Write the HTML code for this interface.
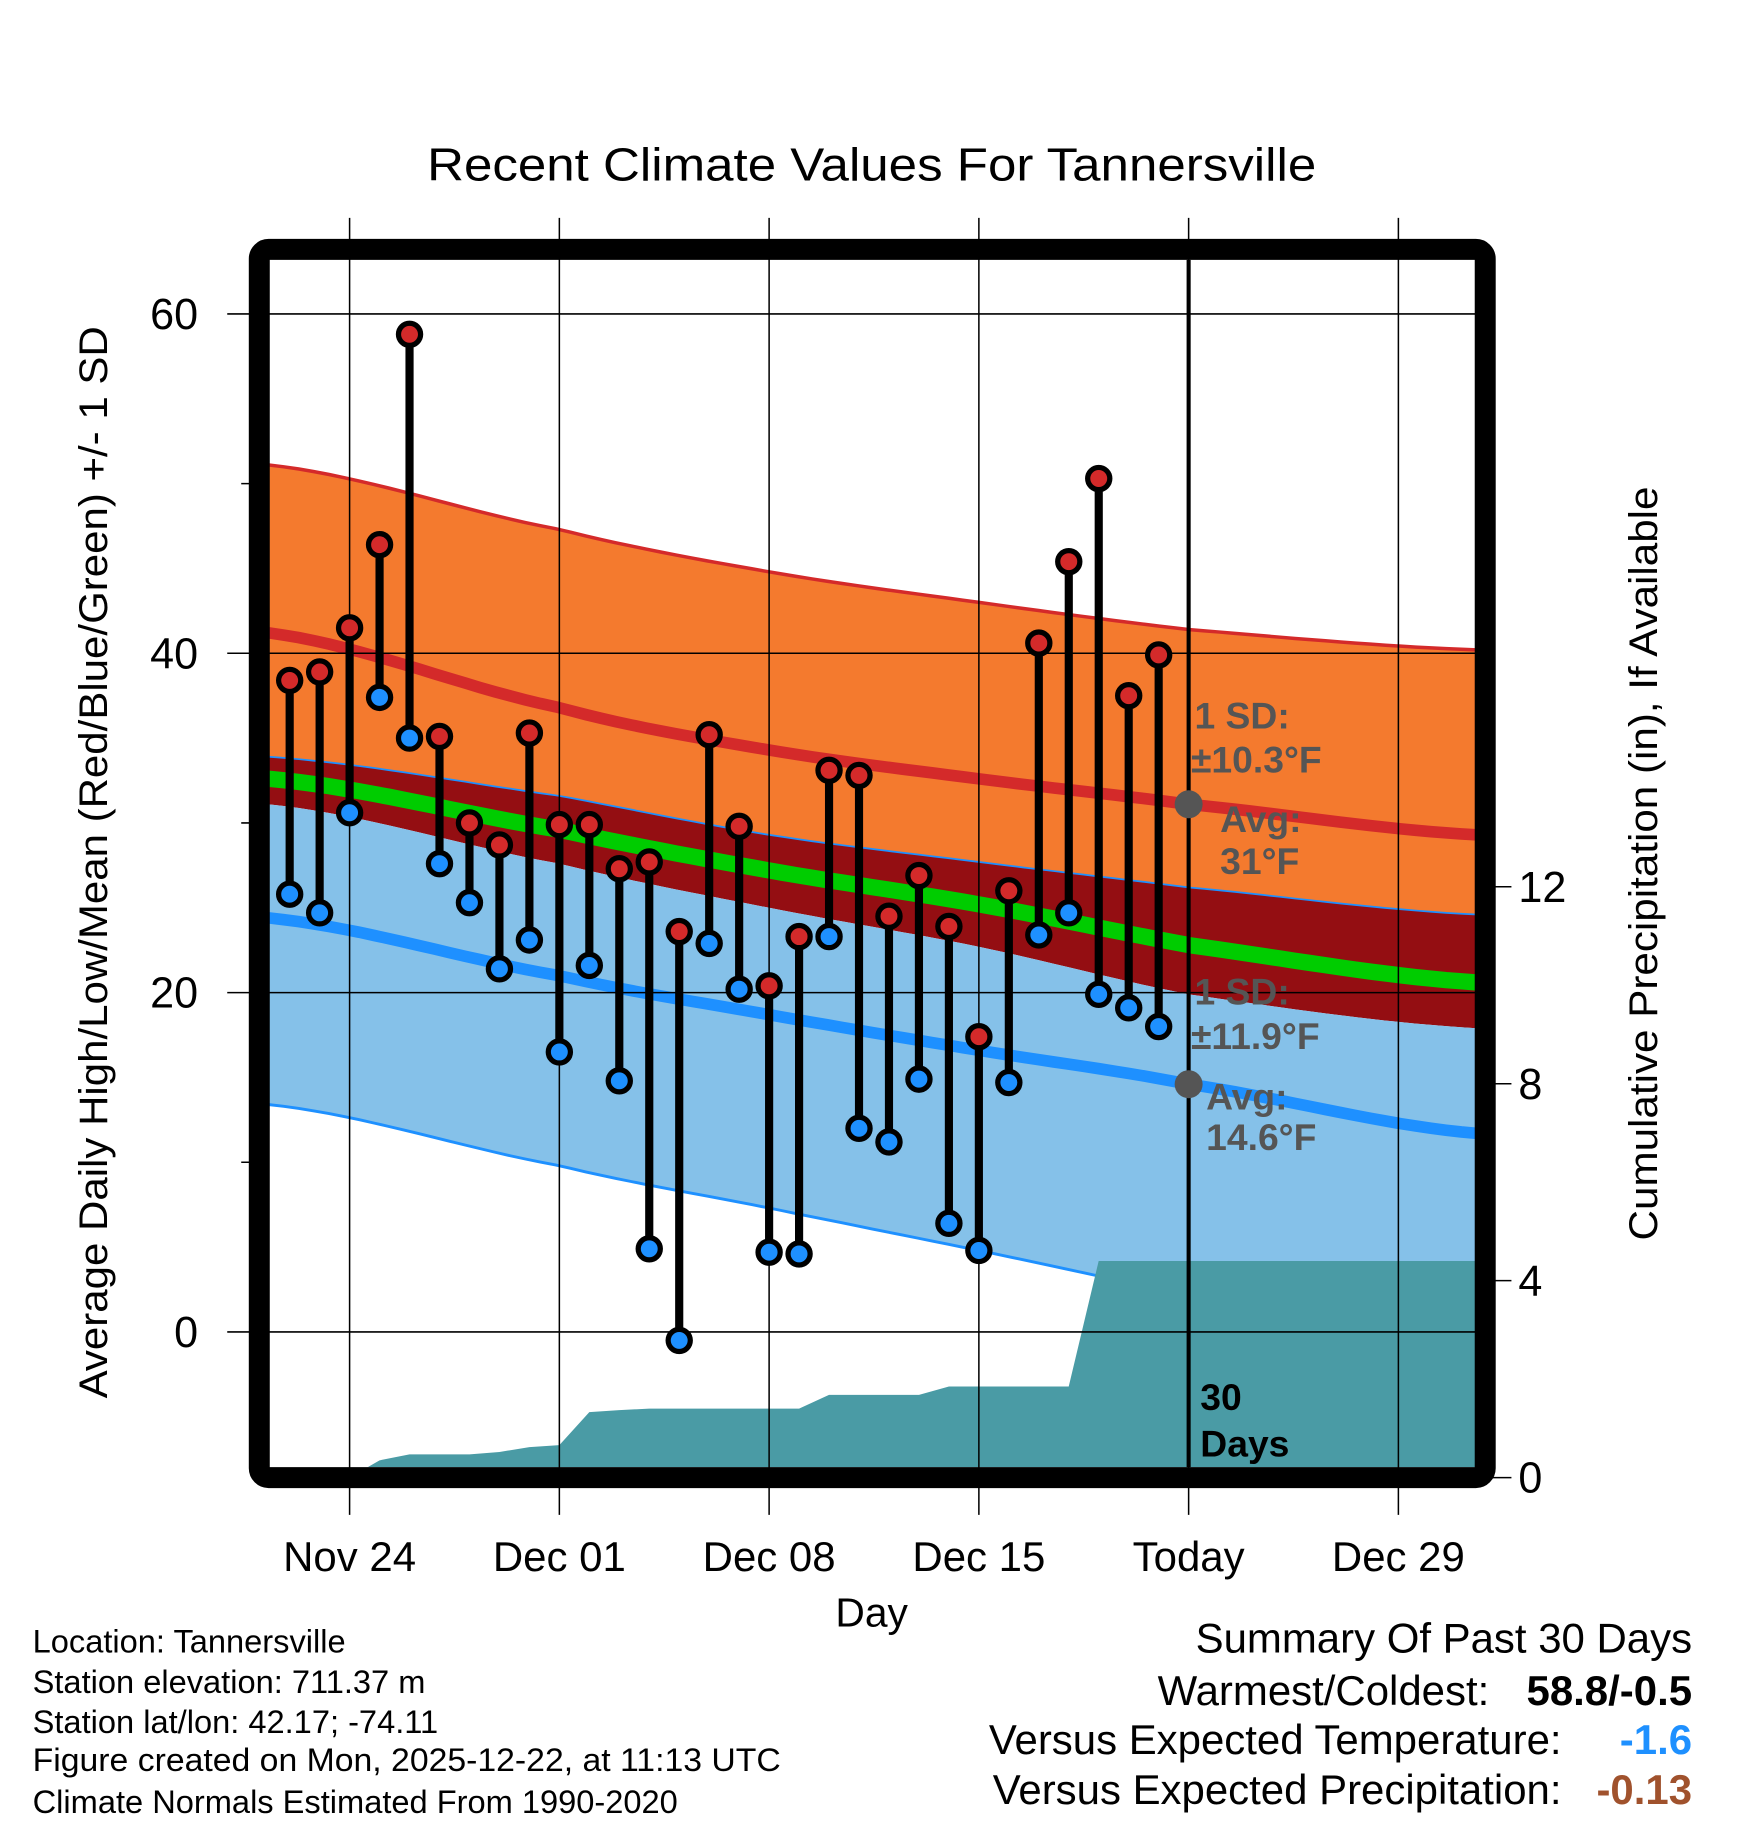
<!DOCTYPE html>
<html><head><meta charset="utf-8">
<style>
html,body{margin:0;padding:0;background:#fff;}
svg{display:block;font-family:"Liberation Sans",Arial,sans-serif;}
</style></head>
<body>
<svg id="chart" xmlns="http://www.w3.org/2000/svg" width="1748" height="1828" viewBox="0 0 1500 1568.7" preserveAspectRatio="none">
<defs><clipPath id="plotclip"><rect x="231" y="223" width="1036" height="1036"/></clipPath></defs>
<g id="bands" clip-path="url(#plotclip)"></g>
<g id="precip" clip-path="url(#plotclip)"></g>
<g id="grid"></g>
<g id="marks"></g>
<g id="annot"></g>
<rect x="222.5" y="214" width="1052" height="1054" rx="8" fill="none" stroke="#000" stroke-width="18"/>
<text x="748" y="155" font-size="40" text-anchor="middle" textLength="763" lengthAdjust="spacingAndGlyphs">Recent Climate Values For Tannersville</text>
<text transform="translate(92,740) rotate(-90)" font-size="34" text-anchor="middle" textLength="920" lengthAdjust="spacingAndGlyphs">Average Daily High/Low/Mean (Red/Blue/Green) +/- 1 SD</text>
<text transform="translate(1422,741) rotate(-90)" font-size="34" text-anchor="middle" textLength="647" lengthAdjust="spacingAndGlyphs">Cumulative Precipitation (in), If Available</text>
<text x="748" y="1396" font-size="35" text-anchor="middle">Day</text>
<g font-size="28">
<text x="28" y="1418">Location: Tannersville</text>
<text x="28" y="1453">Station elevation: 711.37 m</text>
<text x="28" y="1487">Station lat/lon: 42.17; -74.11</text>
<text x="28" y="1520" textLength="642" lengthAdjust="spacingAndGlyphs">Figure created on Mon, 2025-12-22, at 11:13 UTC</text>
<text x="28" y="1556">Climate Normals Estimated From 1990-2020</text>
</g>
<g font-size="36">
<text x="1452" y="1418" text-anchor="end">Summary Of Past 30 Days</text>
<text x="1278" y="1463" text-anchor="end">Warmest/Coldest:</text>
<text x="1452" y="1463" text-anchor="end" font-weight="bold">58.8/-0.5</text>
<text x="1340" y="1505" text-anchor="end">Versus Expected Temperature:</text>
<text x="1452" y="1505" text-anchor="end" font-weight="bold" fill="#1e90ff">-1.6</text>
<text x="1340" y="1548" text-anchor="end">Versus Expected Precipitation:</text>
<text x="1452" y="1548" text-anchor="end" font-weight="bold" fill="#a0522d">-0.13</text>
</g>
</svg>
<script>
// Data (day index 0 = Nov 24)
const days = [-2,-1,0,1,2,3,4,5,6,7,8,9,10,11,12,13,14,15,16,17,18,19,20,21,22,23,24,25,26,27];
const highs = [38.4,38.9,41.5,46.4,58.8,35.1,30.0,28.7,35.3,29.9,29.9,27.3,27.7,23.6,35.2,29.8,20.4,23.3,33.1,32.8,24.5,26.9,23.9,17.4,26.0,40.6,45.4,50.3,37.5,39.9];
const lows = [25.8,24.7,30.6,37.4,35.0,27.6,25.3,21.4,23.1,16.5,21.6,14.8,4.9,-0.5,22.9,20.2,4.7,4.6,23.3,12.0,11.2,14.9,6.4,4.8,14.7,23.4,24.7,19.9,19.1,18.0];
const precipDays = [-2.7,0,1,2,3,4,5,6,7,8,9,10,11,12,13,14,15,16,17,18,19,20,21,22,23,24,25,37.6];
const precip = [0,0,0.35,0.47,0.47,0.47,0.52,0.62,0.66,1.33,1.37,1.40,1.40,1.40,1.40,1.40,1.40,1.68,1.68,1.68,1.68,1.85,1.85,1.85,1.85,1.85,4.40,4.40];
const normDays = [-2.7,7,14,21,28,37.6];
const bandTop = [51.1,47.3,44.8,43.0,41.4,40.2];
const highMean = [41.2,36.8,34.3,32.6,31.1,29.3];
const darkTop = [33.9,31.6,29.3,27.7,26.2,24.6];
const meanLine = [32.6,29.6,27.2,25.2,22.8,20.6];
const lightTop = [31.1,27.6,25.0,22.7,19.9,17.9];
const lowMean = [24.4,21.0,18.7,16.6,14.6,11.7];
const bandBottom = [13.4,9.8,7.3,4.8,2.3,0.9];
const xTickDays = [0,7,14,21,28,35];
const xTickLabels = ['Nov 24','Dec 01','Dec 08','Dec 15','Today','Dec 29'];
const yTicks = [0,20,40,60];
const yMinor = [10,30,50];
const y2Ticks = [0,4,8,12];

const X = d => 300 + d*25.714;
const Y = v => 1143 - v*14.56;
const Y2 = p => 1268 - p*42.25;
const NS='http://www.w3.org/2000/svg';
function mk(tag, attrs, parent){const e=document.createElementNS(NS,tag);for(const k in attrs)e.setAttribute(k,attrs[k]);parent.appendChild(e);return e;}
// smooth sampling via monotone-ish Catmull-Rom interpolation of normals
function interp(arr, d){
  let i=0; while(i<normDays.length-2 && d>normDays[i+1]) i++;
  const t=(d-normDays[i])/(normDays[i+1]-normDays[i]);
  const p0=arr[Math.max(i-1,0)], p1=arr[i], p2=arr[i+1], p3=arr[Math.min(i+2,arr.length-1)];
  const t2=t*t, t3=t2*t;
  return 0.5*((2*p1)+(-p0+p2)*t+(2*p0-5*p1+4*p2-p3)*t2+(-p0+3*p1-3*p2+p3)*t3);
}
const pts = arr => { const r=[]; for(let k=0;k<=80;k++){const d=normDays[0]+(normDays[normDays.length-1]-normDays[0])*k/80; r.push(X(d).toFixed(1)+','+Y(interp(arr,d)).toFixed(1));} return r; };
const bands=document.getElementById('bands');
function area(top,bot,fill,name){
  const p=pts(top).concat(pts(bot).reverse());
  const e=mk('polygon',{points:p.join(' '),fill:fill},bands);
  
  
}
function line(arr,color,w,name){
  const e=mk('polyline',{points:pts(arr).join(' '),fill:'none',stroke:color,'stroke-width':w},bands);
  
  
}
area(bandTop,darkTop,'#f47a2e','high-sd-band');
area(darkTop,lightTop,'#940e12','mean-band');
area(lightTop,bandBottom,'#85c1e9','low-sd-band');
line(bandTop,'#d42a2a',3,'high-sd-line');
line(darkTop,'#1e90ff',1.5,'high-lower-line');
line(bandBottom,'#1e90ff',2.5,'low-sd-line');
line(meanLine,'#00cc00',14,'mean-line');
line(highMean,'#d42a2a',10,'high-normal-line');
line(lowMean,'#1e90ff',10,'low-normal-line');

// precip
const pp=document.getElementById('precip');
let pstr=precipDays.map((d,i)=>X(d).toFixed(1)+','+Y2(precip[i]).toFixed(1));
pstr.push(X(37.6)+','+1270, X(-2.7)+','+1270);
const pa=mk('polygon',{points:pstr.join(' '),fill:'#4a9ba5'},pp);



// grid + ticks
const g=document.getElementById('grid');
xTickDays.forEach((d,i)=>{
  const l=mk('line',{x1:X(d),x2:X(d),y1:187,y2:1300,stroke:'#000','stroke-width':1.3},g);
  
  
  const t=mk('text',{x:X(d),y:1348,'font-size':36,'text-anchor':'middle'},g);
  t.textContent=xTickLabels[i];
  
  
});
yTicks.forEach(v=>{
  const l=mk('line',{x1:195,x2:1267,y1:Y(v),y2:Y(v),stroke:'#000','stroke-width':1.3},g);
  
  
  const t=mk('text',{x:170,y:Y(v)+13,'font-size':37,'text-anchor':'end'},g);
  t.textContent=v;
  
  
});
yMinor.forEach(v=>{
  const l=mk('line',{x1:207,x2:222,y1:Y(v),y2:Y(v),stroke:'#000','stroke-width':1.3},g);
  
  
});
y2Ticks.forEach(p=>{
  const l=mk('line',{x1:1275,x2:1297,y1:Y2(p),y2:Y2(p),stroke:'#000','stroke-width':1.3},g);
  
  
  const t=mk('text',{x:1303,y:Y2(p)+13,'font-size':37},g);
  t.textContent=p;
  
  
});
const today=mk('line',{x1:X(28),x2:X(28),y1:223,y2:1259,stroke:'#000','stroke-width':3.5},g);



// marks
const m=document.getElementById('marks');
days.forEach((d,i)=>{
  const x=X(d);
  const s=mk('line',{x1:x,x2:x,y1:Y(highs[i]),y2:Y(lows[i]),stroke:'#000','stroke-width':7},m);
  
  
});
days.forEach((d,i)=>{
  const x=X(d);
  const h=mk('circle',{cx:x,cy:Y(highs[i]),r:9.5,fill:'#d42a2a',stroke:'#000','stroke-width':4.5},m);
  
  
  const lo=mk('circle',{cx:x,cy:Y(lows[i]),r:9.5,fill:'#1e90ff',stroke:'#000','stroke-width':4.5},m);
  
  
});

// annotations
const a=document.getElementById('annot');
const c1=mk('circle',{cx:X(28),cy:Y(highMean[4]),r:12,fill:'#555'},a);


const c2=mk('circle',{cx:X(28),cy:Y(lowMean[4]),r:12,fill:'#555'},a);


const texts=[
 [1025,625,'1 SD:','#555'],[1022,663,'±10.3°F','#555'],[1047,714,'Avg:','#555'],[1047,750,'31°F','#555'],
 [1025,862,'1 SD:','#555'],[1022,900,'±11.9°F','#555'],[1035,952,'Avg:','#555'],[1035,987,'14.6°F','#555'],
 [1030,1210,'30','#000'],[1030,1250,'Days','#000']];
texts.forEach(t=>{
  const e=mk('text',{x:t[0],y:t[1],'font-size':32,'font-weight':'bold',fill:t[3]},a);
  e.textContent=t[2];
  
  
});
</script>
</body></html>
